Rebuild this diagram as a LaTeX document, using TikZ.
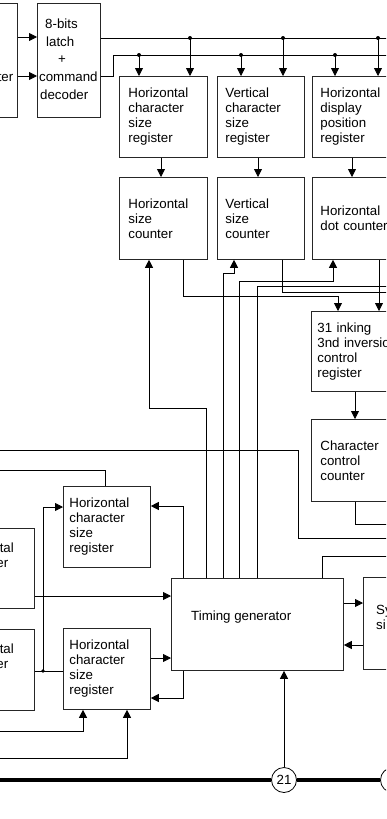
\documentclass[tikz,border=0pt]{standalone}
\usepackage{fontspec}
\setmainfont{Liberation Sans}
\usetikzlibrary{arrows.meta}
\begin{document}
\begin{tikzpicture}[x=1pt,y=-1pt,
  bx/.style={draw=black!85, line width=0.8pt, inner ysep=0pt, align=left, anchor=north west, font=\fontsize{13.3}{15}\selectfont},
  lbl/.style={inner sep=0pt, font=\fontsize{13.3}{15}\selectfont},
  ln/.style={line width=0.8pt},
  arr/.style={line width=0.8pt, -{Triangle[length=8pt,width=8pt]}},
  bus/.style={line width=4.2pt},
  ring/.style={draw, circle, line width=0.8pt, minimum size=25pt, inner sep=0pt, fill=white, font=\fontsize{13.3}{15}\selectfont}]
\useasboundingbox (0,0) rectangle (386,819);
\clip (0,0) rectangle (386,819);

% ---------- top boxes
\node[bx, minimum width=57pt, minimum height=114pt] (regL) at (-40,3) {};
\node[lbl, anchor=base east] (regLt) at (13.5,81.5) {ter};
\node[bx, minimum width=63pt, minimum height=114pt] (latch) at (37,3) {};
\node[lbl, anchor=base west] (lt1) at (45,28) {8-bits};
\node[lbl, anchor=base west] (lt2) at (46,46) {latch};
\node[lbl, anchor=base west] (lt3) at (58,63.5) {+};
\node[lbl, anchor=base west] (lt4) at (39,81.5) {command};
\node[lbl, anchor=base west] (lt5) at (40,99) {decoder};

\node[bx, minimum width=88pt, minimum height=81pt, text width=70pt, inner xsep=9pt] (hcsr) at (119,76) {Horizontal\\character\\size\\register};
\node[bx, minimum width=87pt, minimum height=81pt, text width=71pt, inner xsep=8pt] (vcsr) at (217,76) {Vertical\\character\\size\\register};
\node[bx, minimum width=100pt, minimum height=81pt, text width=84pt, inner xsep=8pt] (hdpr) at (312,76) {Horizontal\\display\\position\\register};

\node[bx, minimum width=88pt, minimum height=82pt, text width=70pt, inner xsep=9pt] (hsc) at (119,177) {Horizontal\\size\\counter};
\node[bx, minimum width=87pt, minimum height=82pt, text width=71pt, inner xsep=8pt] (vsc) at (217,177) {Vertical\\size\\counter};
\node[bx, minimum width=100pt, minimum height=82pt, text width=84pt, inner xsep=8pt] (hdc) at (312,177) {Horizontal\\dot counter};

\node[bx, minimum width=100pt, minimum height=80pt, text width=88pt, inner xsep=6pt] (ink) at (311,311) {31 inking\\3nd inversion\\control\\register};
\node[bx, minimum width=100pt, minimum height=82pt, text width=82pt, inner xsep=9pt] (ccc) at (311,419) {Character\\control\\counter};

% ---------- lower boxes
\node[bx, minimum width=74pt, minimum height=80pt] (L1) at (-40,528) {};
\node[lbl, anchor=base east] (L1a) at (14,552) {tal};
\node[lbl, anchor=base east] (L1b) at (8.5,567) {er};
\node[bx, minimum width=74pt, minimum height=81pt] (L2) at (-40,629) {};
\node[lbl, anchor=base east] (L2a) at (14,653) {tal};
\node[lbl, anchor=base east] (L2b) at (8.5,668) {er};

\node[bx, minimum width=87pt, minimum height=81pt, text width=75pt, inner xsep=6pt] (hcr1) at (63,486) {Horizontal\\character\\size\\register};
\node[bx, minimum width=87pt, minimum height=81pt, text width=75pt, inner xsep=6pt] (hcr2) at (63,628) {Horizontal\\character\\size\\register};

\node[bx, minimum width=172pt, minimum height=92pt] (tg) at (171,578) {};
\node[lbl, anchor=west] (tgt) at (191,617) {Timing generator};
\node[bx, minimum width=60pt, minimum height=92pt] (sync) at (363,577) {};
\node[lbl, anchor=base west] (sy1) at (376,614) {Sy};
\node[lbl, anchor=base west] (sy2) at (376,629.5) {si};

\node[ring] (c21) at (284,780) {21};
\node[ring] (c22) at (393,780) {};

% ---------- free ends
\coordinate (eA) at (392,38);
\coordinate (eB) at (392,55);
\coordinate (e1) at (392,286.5);
\coordinate (e2) at (392,292.5);
\coordinate (e3) at (392,524.5);
\coordinate (e4) at (392,538);
\coordinate (e5) at (392,556);
\coordinate (w1) at (-5,450);
\coordinate (w2) at (-5,470);
\coordinate (w3) at (-5,731);
\coordinate (w4) at (-5,758);
\coordinate (w5) at (-5,780);

% ---------- top connectors
\draw[arr] (regL.east |- 0,37) -- (latch.west |- 0,37);
\draw[arr] (regL.east |- 0,76) -- (latch.west |- 0,76);
\draw[ln] (latch.east |- 0,38) -- (eA);
\draw[ln] (latch.east |- 0,76) -- (113,76) -- (113,55) -- (eB);
\foreach \x in {190,283,378} {\fill (\x,38) circle (2pt);}
\foreach \x in {139,241,335} {\fill (\x,55) circle (2pt);}
\draw[arr] (139,55) -- (hcsr.north -| 139,0);
\draw[arr] (190,38) -- (hcsr.north -| 190,0);
\draw[arr] (241,55) -- (vcsr.north -| 241,0);
\draw[arr] (283,38) -- (vcsr.north -| 283,0);
\draw[arr] (335,55) -- (hdpr.north -| 335,0);
\draw[arr] (378,38) -- (hdpr.north -| 378,0);

\draw[arr] (hcsr.south -| 161,0) -- (hsc.north -| 161,0);
\draw[arr] (vcsr.south -| 258,0) -- (vsc.north -| 258,0);
\draw[arr] (hdpr.south -| 352,0) -- (hdc.north -| 352,0);

% ---------- middle connectors
\draw[arr] (hsc.south -| 183,0) -- (183,296) -- (338,296) -- (ink.north -| 338,0);
\draw[ln] (vsc.south -| 282,0) -- (282,292.5) -- (e2);
\draw[arr] (hdc.south -| 379,0) -- (ink.north -| 379,0);
\draw[ln] (tg.north -| 257,0) -- (257,286.5) -- (e1);
\draw[arr] (tg.north -| 239,0) -- (239,281) -- (333,281) -- (hdc.south -| 333,0);
\draw[arr] (tg.north -| 223,0) -- (223,273) -- (234,273) -- (vsc.south -| 234,0);
\draw[arr] (tg.north -| 206,0) -- (206,408) -- (149,408) -- (hsc.south -| 149,0);
\draw[arr] (ink.south -| 355,0) -- (ccc.north -| 355,0);
\draw[ln] (ccc.south -| 355,0) -- (355,524.5) -- (e3);
\draw[ln] (w1) -- (298,450) -- (298,538) -- (e4);

% ---------- lower connectors
\draw[ln] (w2) -- (105,470) -- (hcr1.north -| 105,0);
\draw[arr] (tg.north -| 183,0) -- (183,506) -- (hcr1.east |- 0,506);
\draw[ln] (L2.east |- 0,671) -- (hcr2.west |- 0,671);
\fill (43,671) circle (1.8pt);
\draw[arr] (43,671) -- (43,507) -- (hcr1.west |- 0,507);
\draw[arr] (L1.east |- 0,596) -- (tg.west |- 0,596);
\draw[arr] (hcr2.east |- 0,658) -- (tg.west |- 0,658);
\draw[arr] (tg.south -| 183,0) -- (183,698) -- (hcr2.east |- 0,698);
\draw[arr] (w3) -- (83,731) -- (hcr2.south -| 83,0);
\draw[arr] (w4) -- (127,758) -- (hcr2.south -| 127,0);
\draw[arr] (tg.east |- 0,603) -- (sync.west |- 0,603);
\draw[arr] (sync.west |- 0,645) -- (tg.east |- 0,645);
\draw[ln] (tg.north -| 322,0) -- (322,556) -- (e5);

% ---------- bus
\draw[bus] (w5) -- (c21.west);
\draw[bus] (c21.east) -- (c22.west);
\draw[arr] (c21.north) -- (tg.south -| c21.north);
\end{tikzpicture}
\end{document}
